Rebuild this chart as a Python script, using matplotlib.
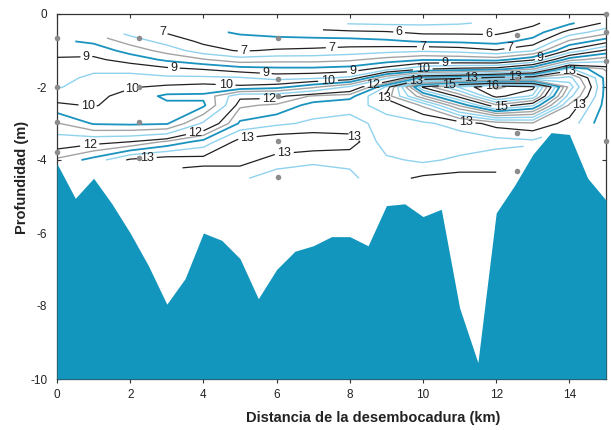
import numpy as np
import matplotlib
matplotlib.use("Agg")
import matplotlib.pyplot as plt

plt.rcParams["axes.unicode_minus"] = False

# Bathymetry along the transect (km, m)
bed_x = [0, 0.5, 1, 1.5, 2, 2.5, 3, 3.5, 4, 4.5, 5, 5.5, 6, 6.5, 7, 7.5, 8,
         8.5, 9, 9.5, 10, 10.5, 11, 11.5, 12, 12.5, 13, 13.5, 14, 14.5, 15]
bed_z = [-4.1, -5.05, -4.5, -5.2, -6.0, -6.9, -7.95, -7.25, -6.0, -6.2, -6.7,
         -7.8, -7.0, -6.5, -6.35, -6.1, -6.1, -6.35, -5.25, -5.2, -5.55, -5.35,
         -8.05, -9.55, -5.45, -4.7, -3.85, -3.25, -3.3, -4.5, -5.1]

# Sampling stations
stn_x = [0, 0, 0, 0, 2.24, 2.24, 2.24, 2.24, 6.04, 6.04, 6.04, 6.04, 6.04,
         12.58, 12.58, 12.58, 12.58, 15, 15, 15, 15]
stn_z = [-0.66, -2.0, -2.96, -3.78, -0.66, -2.0, -2.96, -3.95, -0.66, -1.77,
         -2.26, -3.48, -4.47, -0.58, -1.79, -3.27, -4.29, 0.0, -0.48, -1.29, -3.48]

# Gridded field: columns at each km, rows at depths below
grid_x = np.arange(0, 16)
grid_z = [-0.25, -0.5, -0.75, -1.0, -1.25, -1.5, -1.75, -2.0, -2.25, -2.5,
          -3.0, -3.5, -4.0, -4.5]
nan = np.nan
col_0 = [nan, nan, 8.6, 8.85, 9.05, 9.2, 9.35, 9.45, 9.75, 10.1, 11.05, 11.8, 12.3, nan]
col_1 = [nan, nan, 8.4, 8.8, 9.1, 9.4, 9.6, 9.75, 9.85, 9.95, 10.45, 11.9, 12.6, nan]
col_2 = [nan, 7.3, 7.8, 8.3, 8.8, 9.3, 9.7, 9.95, 10.2, 10.3, 10.4, 12.0, 13.05, nan]
col_3 = [nan, 6.95, 7.3, 7.8, 8.4, 9.1, 9.6, 10.1, 10.6, 10.4, 10.45, 12.3, 13.15, nan]
col_4 = [nan, 6.7, 6.9, 7.2, 8.05, 8.95, 9.6, 10.2, 10.6, 10.4, 11.6, 12.6, 13.1, 12.8]
col_5 = [nan, 6.4, 6.8, 6.95, 7.7, 8.7, 9.55, 10.1, 11.9, 12.2, 12.55, 13.1, 13.1, 12.8]
col_6 = [nan, 6.3, 6.7, 7.05, 7.8, 8.6, 9.3, 10.3, 11.9, 12.3, 12.7, 13.2, 12.9, 12.6]
col_7 = [nan, 6.2, 6.7, 7.1, 7.8, 8.6, 9.4, 10.9, 12.3, 12.6, 12.8, 13.2, 12.8, 12.6]
col_8 = [5.45, 6.1, 6.7, 7.2, 7.9, 8.7, 9.6, 11.6, 12.4, 12.7, 12.8, 13.15, 12.8, 12.7]
col_9 = [5.4, 6.05, 6.6, 7.3, 8.2, 9.2, 11.4, 12.8, 13.1, 12.8, 12.7, 12.6, 12.8, 12.9]
col_10 = [5.4, 5.9, 6.45, 7.4, 8.45, 9.9, 12.6, 15.05, 14.2, 13.3, 12.7, 12.55, 12.7, 13.05]
col_11 = [5.45, 5.9, 6.4, 7.3, 8.4, 10.1, 12.8, 15.8, 15.1, 14.3, 12.85, 12.6, 12.8, 13.1]
col_12 = [5.6, 5.9, 6.3, 7.05, 8.3, 10.2, 13.2, 16.3, 16.1, 15.2, 13.1, 12.65, 12.9, 13.05]
col_13 = [5.9, 6.2, 6.7, 7.45, 8.9, 10.9, 13.3, 16.1, 15.7, 14.8, 13.2, 12.7, nan, nan]
col_14 = [6.4, 7.2, 8.1, 9.1, 10.8, 12.8, 13.6, 13.9, 13.6, 13.2, 12.9, nan, nan, nan]
col_15 = [7.1, 7.8, 8.8, 10.1, 11.3, 12.2, 12.4, 12.4, 12.4, 12.4, 12.3, nan, nan, nan]

field = np.ma.masked_invalid(np.array([col_0, col_1, col_2, col_3, col_4, col_5,
                                       col_6, col_7, col_8, col_9, col_10, col_11,
                                       col_12, col_13, col_14, col_15]).T)

labelled = [6, 7, 9, 10, 12, 13, 15, 16]
label_pos = {
    6: [(9.3, -0.63), (11.8, -0.55)],
    7: [(2.6, -0.71), (5.1, -1.0), (7.5, -0.88), (10.0, -0.88), (12.4, -0.96)],
    9: [(0.8, -1.15), (3.2, -1.45), (5.7, -1.64), (8.1, -1.6), (10.6, -1.29),
        (13.1, -1.15)],
    10: [(1.9, -1.86), (4.6, -1.97), (0.87, -2.5), (7.4, -1.81), (10.0, -1.53)],
    12: [(3.7, -3.2), (0.9, -3.6), (5.8, -2.27), (8.6, -1.9)],
    13: [(2.46, -3.95), (5.2, -3.4), (6.15, -3.7), (8.0, -3.4), (8.9, -2.3),
         (9.8, -1.84), (11.3, -1.62), (12.5, -1.65), (11.2, -2.9), (14.1, -1.42),
         (14.4, -2.52)],
    15: [(10.7, -1.95), (12.1, -2.5)],
    16: [(11.9, -2.05)],
}

BLACK = "#231f20"
GRAY = "#a3a3a3"
LIGHT = "#8fd2ee"
DARK = "#1a93bf"
FILL = "#1396bd"

fig = plt.figure(figsize=(6.11, 4.30), dpi=100)
ax = fig.add_axes([57 / 611, 51 / 430, 549 / 611, 365 / 430])

# Unlabelled contour lines: half steps in the upper layer, quarter steps below
other_levels = [v for v in np.arange(5.5, 12.0, 0.5) if v not in labelled]
other_levels += [v for v in np.arange(12.0, 16.6, 0.25) if v not in labelled]
other_colors = []
other_widths = []
for v in other_levels:
    frac = v - int(v)
    if frac in (0.0, 0.25):
        other_colors.append(GRAY)
        other_widths.append(1.0)
    elif frac == 0.75:
        other_colors.append(LIGHT)
        other_widths.append(1.0)
    elif int(v) % 2 == 0:
        other_colors.append(DARK)
        other_widths.append(1.3)
    else:
        other_colors.append(LIGHT)
        other_widths.append(1.0)
ax.contour(grid_x, grid_z, field, levels=other_levels, colors=other_colors,
           linewidths=other_widths, zorder=2)

# Labelled contour lines
for lev in labelled:
    cs = ax.contour(grid_x, grid_z, field, levels=[lev], colors=BLACK,
                    linewidths=0.9, zorder=3)
    ax.clabel(cs, manual=label_pos[lev], inline=True, inline_spacing=2,
              fmt="%d", fontsize=9, colors=BLACK)
for t in ax.texts:
    t.set_fontfamily("Liberation Sans")
    t.set_rotation(0)

# Bottom profile
ax.fill_between(bed_x, bed_z, -10, color=FILL, lw=0, zorder=4)

# Station markers
ax.plot(stn_x, stn_z, "o", color="#8c8c8c", ms=4, mec="none", zorder=5,
        clip_on=False)

ax.set_xlim(0, 15)
ax.set_ylim(-10, 0)
ax.set_xticks(range(0, 15, 2))
ax.set_yticks(range(-10, 1, 2))
ax.tick_params(axis="x", direction="out", length=3, pad=4, top=True,
               labelsize=8.5, color="#333333")
ax.tick_params(axis="y", direction="in", length=3, pad=7, right=True,
               labelsize=8.5, color="#333333")
for t in ax.get_xticklabels() + ax.get_yticklabels():
    t.set_fontfamily("Liberation Sans")
    t.set_color("#222222")
# top ticks point into the plot
for tk in ax.xaxis.get_major_ticks():
    tk.tick2line.set_marker(3)
    tk.tick2line.set_markersize(3)

for sp in ax.spines.values():
    sp.set_color("#333333")
    sp.set_linewidth(0.9)

fig.text(373 / 611, 12 / 430, "Distancia de la desembocadura (km)",
         ha="center", va="center", fontsize=10.5, fontweight="bold",
         family="Liberation Sans", color="#222222")
fig.text(22 / 611, 1 - 177 / 430, "Profundidad (m)", rotation=90,
         ha="center", va="center", fontsize=10.5, fontweight="bold",
         family="Liberation Sans", color="#222222")

fig.savefig("out.png", dpi=100)
